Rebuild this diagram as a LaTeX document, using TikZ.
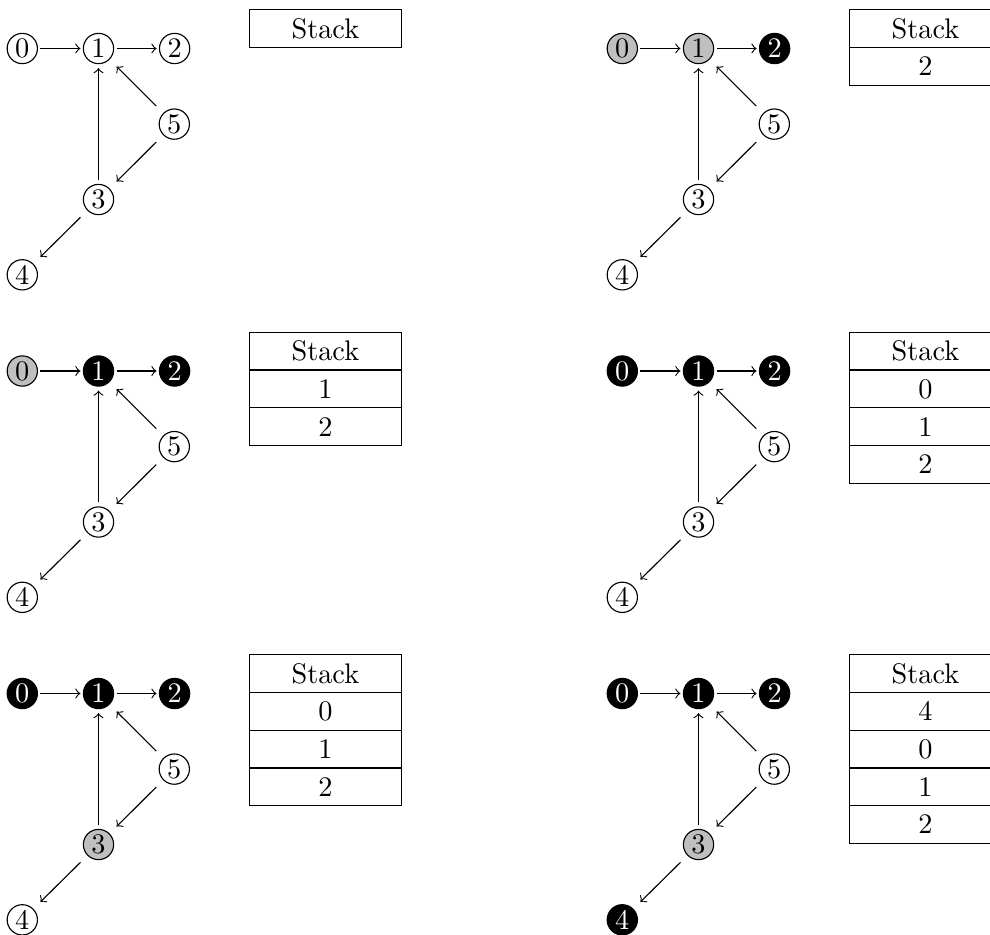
\documentclass[tikz,border=0pt]{standalone}
\usetikzlibrary{arrows}
\tikzset{
  vtx/.style={rectangle, inner sep=0pt, minimum width=12.37pt, minimum height=13.43pt},
  wv/.style={vtx, path picture={\draw[line width=0.4pt, fill=white] (path picture bounding box.center) circle[radius=5.35pt];}},
  gv/.style={vtx, path picture={\draw[line width=0.4pt, fill=gray!50] (path picture bounding box.center) circle[radius=5.35pt];}},
  bv/.style={vtx, text=white, path picture={\draw[line width=0.4pt, fill=black] (path picture bounding box.center) circle[radius=5.35pt];}},
  conn/.style={->, line width=0.4pt},
  cell/.style={draw, line width=0.4pt, rectangle, inner sep=0pt, minimum width=53.71pt, minimum height=13.32pt}
}
\newcommand\graphpanel[8]{%
  \node[#4] (#1n0) at ({#2+22.3},{#3}) {0};
  \node[#5] (#1n1) at ({#2+98.5},{#3}) {1};
  \node[#6] (#1n2) at ({#2+174.6},{#3}) {2};
  \node[wv] (#1n5) at ({#2+174.3},{#3+75.6}) {5};
  \node[#7] (#1n3) at ({#2+98.5},{#3+151}) {3};
  \node[#8] (#1n4) at ({#2+22.3},{#3+226.3}) {4};
  \draw[conn] (#1n0) -- (#1n1);
  \draw[conn] (#1n1) -- (#1n2);
  \draw[conn] (#1n3) -- (#1n1);
  \draw[conn] (#1n5) -- (#1n1);
  \draw[conn] (#1n5) -- (#1n3);
  \draw[conn] (#1n3) -- (#1n4);
}
\newcommand\stackhead[3]{%
  \node[cell] (#1h) at ({#2+325.4},{#3-19.8}) {Stack};
}
\newcommand\stackpanel[4]{%
  \stackhead{#1}{#2}{#3}%
  \foreach \v [count=\k] in {#4} {
    \node[cell] (#1s\k) at ({#2+325.4},{#3-19.8+37.7*\k}) {\v};
  }
}
\begin{document}
\begin{tikzpicture}[x=0.35336pt, y=-0.35336pt]
\useasboundingbox (0,0) rectangle (990,934);
% row 1
\graphpanel{a}{0}{48.5}{wv}{wv}{wv}{wv}{wv}
\stackhead{a}{0}{48.5}
\graphpanel{b}{600}{48.5}{gv}{gv}{bv}{wv}{wv}
\stackpanel{b}{600}{48.5}{2}
% row 2
\graphpanel{c}{0}{371}{gv}{bv}{bv}{wv}{wv}
\stackpanel{c}{0}{371}{1,2}
\graphpanel{d}{600}{371}{bv}{bv}{bv}{wv}{wv}
\stackpanel{d}{600}{371}{0,1,2}
% row 3
\graphpanel{e}{0}{693.5}{bv}{bv}{bv}{gv}{wv}
\stackpanel{e}{0}{693.5}{0,1,2}
\graphpanel{f}{600}{693.5}{bv}{bv}{bv}{gv}{bv}
\stackpanel{f}{600}{693.5}{4,0,1,2}
\end{tikzpicture}
\end{document}
